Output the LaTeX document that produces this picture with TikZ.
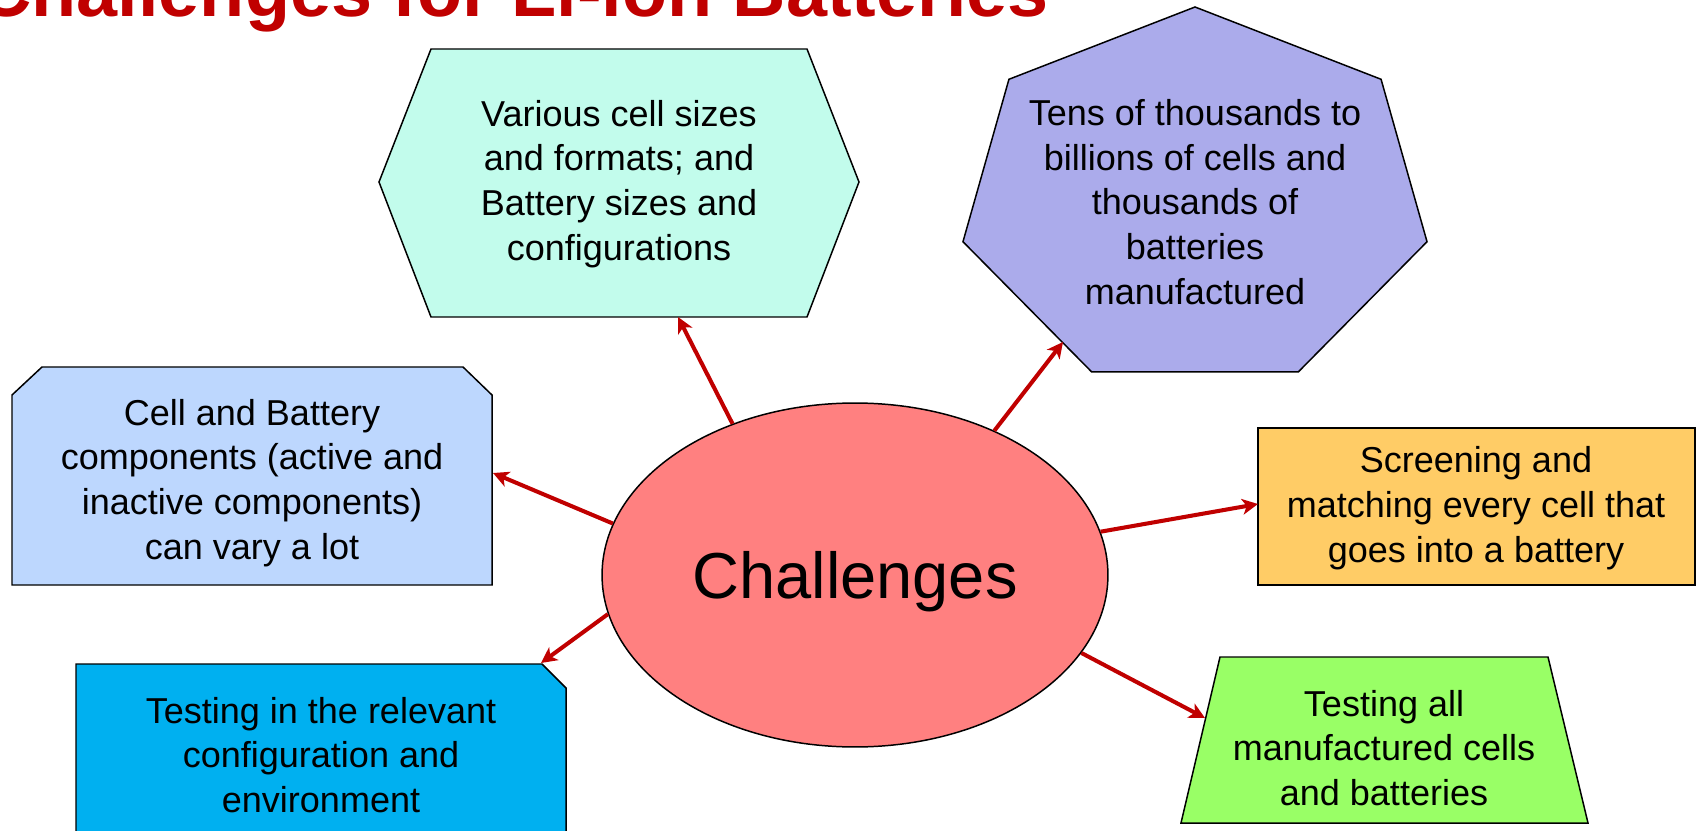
\documentclass[tikz,border=0pt]{standalone}
\usepackage{fontspec}
\setmainfont{Liberation Sans}
\usetikzlibrary{arrows.meta,shapes.geometric}

\definecolor{titlered}{RGB}{192,0,0}
\definecolor{hexfill}{RGB}{194,252,236}
\definecolor{heptfill}{RGB}{171,171,235}
\definecolor{cellfill}{RGB}{189,215,254}
\definecolor{envfill}{RGB}{0,176,240}
\definecolor{screenfill}{RGB}{255,204,102}
\definecolor{trapfill}{RGB}{153,255,102}
\definecolor{chalfill}{RGB}{255,128,128}

\begin{document}
\begin{tikzpicture}[
    x=0.02cm,y=-0.02cm,
    face/.style={draw=black,line width=0.85pt},
    hexface/.style={face,fill=hexfill},
    heptface/.style={face,fill=heptfill},
    cellface/.style={face,fill=cellfill},
    envface/.style={face,fill=envfill},
    screenface/.style={face,fill=screenfill},
    trapface/.style={face,fill=trapfill},
    boxtext/.style={align=center,inner sep=0pt,
        font=\fontsize{20.5}{25.5}\selectfont},
    pointer/.style={draw=titlered,line width=2.3pt,
        -{Stealth[length=9pt,width=9pt,inset=2.5pt]}},
]
\useasboundingbox (0,0) rectangle (1698,831);

% heading, cut by the top and left edges
\node[font=\fontsize{42}{50}\selectfont\bfseries,text=titlered,
      anchor=base east,inner sep=0pt] (title) at (1049,17)
    {Challenges for Li-ion Batteries};

% outer shapes
\filldraw[hexface] (431,49)--(807,49)--(859,182)--(807,317)--(431,317)--(379,182)--cycle;
\filldraw[heptface] (1195,7)
    \foreach \k in {1,...,6} {--({1195+238*cos(90+\k*360/7)},{199-192*sin(90+\k*360/7)})}
    --cycle;
\filldraw[cellface] (12,395)--(42,367)--(463,367)--(492,395)--(492,585)--(12,585)--cycle;
\filldraw[envface] (76,664)--(542,664)--(566,688)--(566,850)--(76,850)--cycle;
\filldraw[screenface] (1258,428) rectangle (1695,585);
\filldraw[trapface] (1220,657)--(1548,657)--(1588,823)--(1181,823)--cycle;

% texts
\node[boxtext] (sizes) at (619,184)
    {Various cell sizes\\and formats; and\\Battery sizes and\\configurations};
\node[boxtext] (volume) at (1195,202)
    {Tens of thousands to\\billions of cells and\\thousands of\\batteries\\manufactured};
\node[boxtext] (parts) at (252,483)
    {Cell and Battery\\components (active and\\inactive components)\\can vary a lot};
\node[boxtext] (env) at (321,755)
    {Testing in the relevant\\configuration and\\environment};
\node[boxtext] (screen) at (1476,508)
    {Screening and\\matching every cell that\\goes into a battery};
\node[boxtext] (testall) at (1384,748)
    {Testing all\\manufactured cells\\and batteries};

% centre
\node[ellipse,face,fill=chalfill,minimum width=10.12cm,minimum height=6.88cm,
      inner sep=0pt,text depth=0pt,font=\fontsize{37}{44}\selectfont]
    (chal) at (855,575) {Challenges};

% arrow ends on the shapes
\coordinate (hexIn) at (678,317);
\coordinate (heptIn) at (1063,342);
\coordinate (cellIn) at (493,473);
\coordinate (envIn) at (541,663);
\coordinate (screenIn) at (1258,504);
\coordinate (trapIn) at (1205,718);

\draw[pointer] (chal.129) -- (hexIn);
\draw[pointer] (chal.46) -- (heptIn);
\draw[pointer] (chal.168) -- (cellIn);
\draw[pointer] (chal.189) -- (envIn);
\draw[pointer] (chal.10) -- (screenIn);
\draw[pointer] (chal.-19) -- (trapIn);

\end{tikzpicture}
\end{document}
